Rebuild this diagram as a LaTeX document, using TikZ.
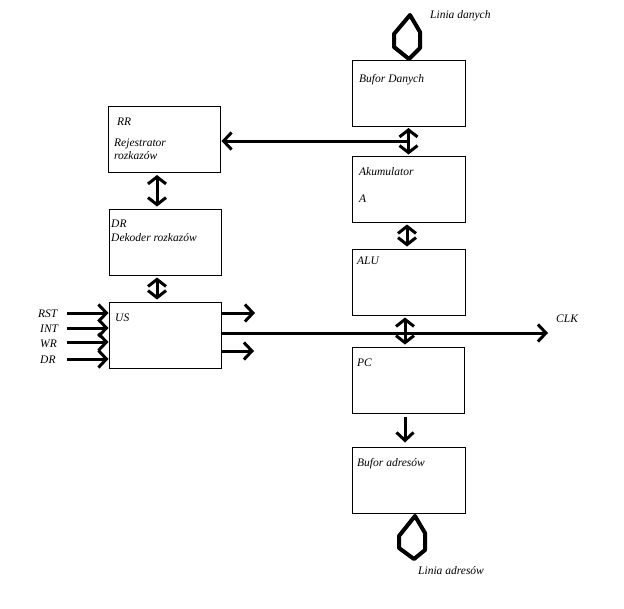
\documentclass[tikz,border=0pt]{standalone}
\usepackage{fontspec}
\setmainfont{Liberation Serif}
\usetikzlibrary{arrows.meta}
\begin{document}
\begin{tikzpicture}[x=1pt,y=-1pt,
  box/.style={draw,line width=1pt,inner sep=0pt,minimum width=113pt,minimum height=66pt},
  lbl/.style={anchor=base west,inner sep=0pt,font=\fontsize{11.5}{13}\selectfont\itshape},
  conn/.style={line width=3pt,-{Straight Barb[length=8pt,width=17pt,line width=3pt]}},
  dbl/.style={line width=3pt,{Straight Barb[length=7pt,width=18pt,line width=3pt]}-{Straight Barb[length=7pt,width=18pt,line width=3pt]}},
  plainline/.style={line width=3pt},
  hexa/.style={line width=4pt,line join=round}]
\useasboundingbox (0,0) rectangle (624,608);
% boxes
\node[box] (bd) at (408.5,93.5) {};
\node[box,minimum width=112pt] (rr) at (164,139.5) {};
\node[box] (akk) at (408.5,189) {};
\node[box,minimum width=112pt] (dr) at (165,242) {};
\node[box] (alu) at (408.5,282) {};
\node[box,minimum width=112pt] (us) at (165,335) {};
\node[box,minimum width=112pt] (pc) at (408,380) {};
\node[box] (ba) at (408.5,480) {};
% labels
\node[lbl] (tbd) at (359,82) {Bufor Danych};
\node[lbl] (trr) at (117,125) {RR};
\node[lbl] (trr2) at (114,146) {Rejestrator};
\node[lbl] (trr3) at (114,159) {rozkazów};
\node[lbl] (tdr) at (111,227) {DR};
\node[lbl] (tdr2) at (111,241) {Dekoder rozkazów};
\node[lbl] (tus) at (115,321) {US};
\node[lbl] (tak) at (359,175) {Akumulator};
\node[lbl] (ta) at (359,202) {A};
\node[lbl] (talu) at (357,264) {ALU};
\node[lbl] (tpc) at (357,366) {PC};
\node[lbl] (tba) at (357,466) {Bufor adresów};
\node[lbl] (tld) at (430,18) {Linia danych};
\node[lbl] (tla) at (418,574) {Linia adresów};
\node[lbl] (tclk) at (556,322) {CLK};
\node[lbl] (trst) at (38,317) {RST};
\node[lbl] (tint) at (40,332) {INT};
\node[lbl] (twr) at (40,347) {WR};
\node[lbl] (tdri) at (40,363) {DR};
% hexagons
\draw[hexa] (410,15) -- (420,32) -- (420,48) -- (409,59) -- (394,47) -- (394,34) -- cycle;
\draw[hexa] (415,516) -- (425,533) -- (425,550) -- (414,559) -- (399,548) -- (399,536) -- cycle;
% vertical connectors
\draw[dbl,shorten <=1pt,shorten >=1pt] (bd.south) -- (akk.north);
\coordinate (j) at (409,141);
\draw[conn,shorten >=1pt] (j) -- (rr.east |- j);
\draw[dbl,shorten <=2pt,shorten >=2pt] ([xshift=-7pt]rr.south) -- ([xshift=-8pt]dr.north);
\draw[dbl,shorten <=2pt,shorten >=2pt] ([xshift=-8pt]dr.south) -- ([xshift=-8pt]us.north);
\draw[dbl,shorten <=2pt,shorten >=2pt] ([xshift=-1.5pt]akk.south) -- ([xshift=-1.5pt]alu.north);
\draw[dbl,shorten <=2pt,shorten >=2pt] ([xshift=-3.5pt]alu.south) -- ([xshift=-3pt]pc.north);
\draw[conn,shorten <=3pt,shorten >=4pt] ([xshift=-3pt]pc.south) -- ([xshift=-3.5pt]ba.north);
% CLK line
\coordinate (clk) at (548,333);
\draw[conn] (us.east |- clk) -- (clk);
\coordinate (o1) at (255,313);
\coordinate (o2) at (254,351);
\draw[conn] (us.east |- o1) -- (o1);
\draw[conn] (us.east |- o2) -- (o2);
% inputs
\coordinate (i1) at (67,313);
\coordinate (i2) at (67,328);
\coordinate (i3) at (67,342);
\coordinate (i4) at (67,359);
\draw[conn] (i1) -- (us.west |- i1);
\draw[conn] (i2) -- (us.west |- i2);
\draw[conn] (i3) -- (us.west |- i3);
\draw[conn] (i4) -- (us.west |- i4);
\end{tikzpicture}
\end{document}
